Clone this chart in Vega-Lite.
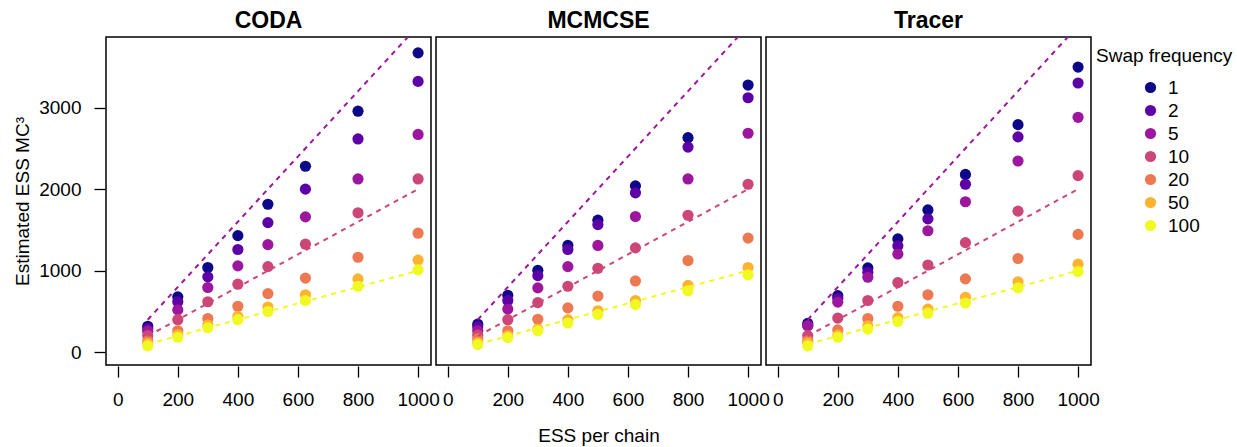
{
  "$schema": "https://vega.github.io/schema/vega-lite/v6.json",
  "padding": {"left": 13, "top": 10, "right": 0, "bottom": 0},
  "background": "white",
  "data": {
    "values": [
      {"method": "CODA", "swap": 1, "ess": 100, "mc3": 320},
      {"method": "CODA", "swap": 1, "ess": 200, "mc3": 680},
      {"method": "CODA", "swap": 1, "ess": 300, "mc3": 1040},
      {"method": "CODA", "swap": 1, "ess": 400, "mc3": 1430},
      {"method": "CODA", "swap": 1, "ess": 500, "mc3": 1815},
      {"method": "CODA", "swap": 1, "ess": 625, "mc3": 2280},
      {"method": "CODA", "swap": 1, "ess": 800, "mc3": 2955},
      {"method": "CODA", "swap": 1, "ess": 1000, "mc3": 3670},
      {"method": "CODA", "swap": 2, "ess": 100, "mc3": 290},
      {"method": "CODA", "swap": 2, "ess": 200, "mc3": 620},
      {"method": "CODA", "swap": 2, "ess": 300, "mc3": 925},
      {"method": "CODA", "swap": 2, "ess": 400, "mc3": 1260},
      {"method": "CODA", "swap": 2, "ess": 500, "mc3": 1590},
      {"method": "CODA", "swap": 2, "ess": 625, "mc3": 2000},
      {"method": "CODA", "swap": 2, "ess": 800, "mc3": 2615},
      {"method": "CODA", "swap": 2, "ess": 1000, "mc3": 3320},
      {"method": "CODA", "swap": 5, "ess": 100, "mc3": 260},
      {"method": "CODA", "swap": 5, "ess": 200, "mc3": 520},
      {"method": "CODA", "swap": 5, "ess": 300, "mc3": 795},
      {"method": "CODA", "swap": 5, "ess": 400, "mc3": 1060},
      {"method": "CODA", "swap": 5, "ess": 500, "mc3": 1320},
      {"method": "CODA", "swap": 5, "ess": 625, "mc3": 1660},
      {"method": "CODA", "swap": 5, "ess": 800, "mc3": 2125},
      {"method": "CODA", "swap": 5, "ess": 1000, "mc3": 2670},
      {"method": "CODA", "swap": 10, "ess": 100, "mc3": 205},
      {"method": "CODA", "swap": 10, "ess": 200, "mc3": 400},
      {"method": "CODA", "swap": 10, "ess": 300, "mc3": 620},
      {"method": "CODA", "swap": 10, "ess": 400, "mc3": 835},
      {"method": "CODA", "swap": 10, "ess": 500, "mc3": 1050},
      {"method": "CODA", "swap": 10, "ess": 625, "mc3": 1325},
      {"method": "CODA", "swap": 10, "ess": 800, "mc3": 1710},
      {"method": "CODA", "swap": 10, "ess": 1000, "mc3": 2125},
      {"method": "CODA", "swap": 20, "ess": 100, "mc3": 140},
      {"method": "CODA", "swap": 20, "ess": 200, "mc3": 265},
      {"method": "CODA", "swap": 20, "ess": 300, "mc3": 415},
      {"method": "CODA", "swap": 20, "ess": 400, "mc3": 565},
      {"method": "CODA", "swap": 20, "ess": 500, "mc3": 720},
      {"method": "CODA", "swap": 20, "ess": 625, "mc3": 910},
      {"method": "CODA", "swap": 20, "ess": 800, "mc3": 1165},
      {"method": "CODA", "swap": 20, "ess": 1000, "mc3": 1460},
      {"method": "CODA", "swap": 50, "ess": 100, "mc3": 110},
      {"method": "CODA", "swap": 50, "ess": 200, "mc3": 215},
      {"method": "CODA", "swap": 50, "ess": 300, "mc3": 335},
      {"method": "CODA", "swap": 50, "ess": 400, "mc3": 440},
      {"method": "CODA", "swap": 50, "ess": 500, "mc3": 555},
      {"method": "CODA", "swap": 50, "ess": 625, "mc3": 705},
      {"method": "CODA", "swap": 50, "ess": 800, "mc3": 900},
      {"method": "CODA", "swap": 50, "ess": 1000, "mc3": 1130},
      {"method": "CODA", "swap": 100, "ess": 100, "mc3": 80},
      {"method": "CODA", "swap": 100, "ess": 200, "mc3": 185},
      {"method": "CODA", "swap": 100, "ess": 300, "mc3": 300},
      {"method": "CODA", "swap": 100, "ess": 400, "mc3": 400},
      {"method": "CODA", "swap": 100, "ess": 500, "mc3": 500},
      {"method": "CODA", "swap": 100, "ess": 625, "mc3": 635},
      {"method": "CODA", "swap": 100, "ess": 800, "mc3": 810},
      {"method": "CODA", "swap": 100, "ess": 1000, "mc3": 1010},
      {"method": "MCMCSE", "swap": 1, "ess": 100, "mc3": 345},
      {"method": "MCMCSE", "swap": 1, "ess": 200, "mc3": 700},
      {"method": "MCMCSE", "swap": 1, "ess": 300, "mc3": 1005},
      {"method": "MCMCSE", "swap": 1, "ess": 400, "mc3": 1310},
      {"method": "MCMCSE", "swap": 1, "ess": 500, "mc3": 1620},
      {"method": "MCMCSE", "swap": 1, "ess": 625, "mc3": 2040},
      {"method": "MCMCSE", "swap": 1, "ess": 800, "mc3": 2630},
      {"method": "MCMCSE", "swap": 1, "ess": 1000, "mc3": 3275},
      {"method": "MCMCSE", "swap": 2, "ess": 100, "mc3": 315},
      {"method": "MCMCSE", "swap": 2, "ess": 200, "mc3": 635},
      {"method": "MCMCSE", "swap": 2, "ess": 300, "mc3": 940},
      {"method": "MCMCSE", "swap": 2, "ess": 400, "mc3": 1260},
      {"method": "MCMCSE", "swap": 2, "ess": 500, "mc3": 1565},
      {"method": "MCMCSE", "swap": 2, "ess": 625, "mc3": 1955},
      {"method": "MCMCSE", "swap": 2, "ess": 800, "mc3": 2515},
      {"method": "MCMCSE", "swap": 2, "ess": 1000, "mc3": 3120},
      {"method": "MCMCSE", "swap": 5, "ess": 100, "mc3": 265},
      {"method": "MCMCSE", "swap": 5, "ess": 200, "mc3": 530},
      {"method": "MCMCSE", "swap": 5, "ess": 300, "mc3": 790},
      {"method": "MCMCSE", "swap": 5, "ess": 400, "mc3": 1050},
      {"method": "MCMCSE", "swap": 5, "ess": 500, "mc3": 1310},
      {"method": "MCMCSE", "swap": 5, "ess": 625, "mc3": 1665},
      {"method": "MCMCSE", "swap": 5, "ess": 800, "mc3": 2125},
      {"method": "MCMCSE", "swap": 5, "ess": 1000, "mc3": 2685},
      {"method": "MCMCSE", "swap": 10, "ess": 100, "mc3": 210},
      {"method": "MCMCSE", "swap": 10, "ess": 200, "mc3": 400},
      {"method": "MCMCSE", "swap": 10, "ess": 300, "mc3": 610},
      {"method": "MCMCSE", "swap": 10, "ess": 400, "mc3": 810},
      {"method": "MCMCSE", "swap": 10, "ess": 500, "mc3": 1030},
      {"method": "MCMCSE", "swap": 10, "ess": 625, "mc3": 1280},
      {"method": "MCMCSE", "swap": 10, "ess": 800, "mc3": 1680},
      {"method": "MCMCSE", "swap": 10, "ess": 1000, "mc3": 2060},
      {"method": "MCMCSE", "swap": 20, "ess": 100, "mc3": 165},
      {"method": "MCMCSE", "swap": 20, "ess": 200, "mc3": 265},
      {"method": "MCMCSE", "swap": 20, "ess": 300, "mc3": 405},
      {"method": "MCMCSE", "swap": 20, "ess": 400, "mc3": 545},
      {"method": "MCMCSE", "swap": 20, "ess": 500, "mc3": 690},
      {"method": "MCMCSE", "swap": 20, "ess": 625, "mc3": 875},
      {"method": "MCMCSE", "swap": 20, "ess": 800, "mc3": 1125},
      {"method": "MCMCSE", "swap": 20, "ess": 1000, "mc3": 1400},
      {"method": "MCMCSE", "swap": 50, "ess": 100, "mc3": 120},
      {"method": "MCMCSE", "swap": 50, "ess": 200, "mc3": 205},
      {"method": "MCMCSE", "swap": 50, "ess": 300, "mc3": 285},
      {"method": "MCMCSE", "swap": 50, "ess": 400, "mc3": 400},
      {"method": "MCMCSE", "swap": 50, "ess": 500, "mc3": 510},
      {"method": "MCMCSE", "swap": 50, "ess": 625, "mc3": 635},
      {"method": "MCMCSE", "swap": 50, "ess": 800, "mc3": 820},
      {"method": "MCMCSE", "swap": 50, "ess": 1000, "mc3": 1040},
      {"method": "MCMCSE", "swap": 100, "ess": 100, "mc3": 95},
      {"method": "MCMCSE", "swap": 100, "ess": 200, "mc3": 180},
      {"method": "MCMCSE", "swap": 100, "ess": 300, "mc3": 265},
      {"method": "MCMCSE", "swap": 100, "ess": 400, "mc3": 360},
      {"method": "MCMCSE", "swap": 100, "ess": 500, "mc3": 465},
      {"method": "MCMCSE", "swap": 100, "ess": 625, "mc3": 585},
      {"method": "MCMCSE", "swap": 100, "ess": 800, "mc3": 755},
      {"method": "MCMCSE", "swap": 100, "ess": 1000, "mc3": 950},
      {"method": "Tracer", "swap": 1, "ess": 100, "mc3": 355},
      {"method": "Tracer", "swap": 1, "ess": 200, "mc3": 695},
      {"method": "Tracer", "swap": 1, "ess": 300, "mc3": 1035},
      {"method": "Tracer", "swap": 1, "ess": 400, "mc3": 1390},
      {"method": "Tracer", "swap": 1, "ess": 500, "mc3": 1745},
      {"method": "Tracer", "swap": 1, "ess": 625, "mc3": 2180},
      {"method": "Tracer", "swap": 1, "ess": 800, "mc3": 2790},
      {"method": "Tracer", "swap": 1, "ess": 1000, "mc3": 3495},
      {"method": "Tracer", "swap": 2, "ess": 100, "mc3": 330},
      {"method": "Tracer", "swap": 2, "ess": 200, "mc3": 660},
      {"method": "Tracer", "swap": 2, "ess": 300, "mc3": 980},
      {"method": "Tracer", "swap": 2, "ess": 400, "mc3": 1305},
      {"method": "Tracer", "swap": 2, "ess": 500, "mc3": 1635},
      {"method": "Tracer", "swap": 2, "ess": 625, "mc3": 2060},
      {"method": "Tracer", "swap": 2, "ess": 800, "mc3": 2640},
      {"method": "Tracer", "swap": 2, "ess": 1000, "mc3": 3300},
      {"method": "Tracer", "swap": 5, "ess": 100, "mc3": 325},
      {"method": "Tracer", "swap": 5, "ess": 200, "mc3": 615},
      {"method": "Tracer", "swap": 5, "ess": 300, "mc3": 920},
      {"method": "Tracer", "swap": 5, "ess": 400, "mc3": 1205},
      {"method": "Tracer", "swap": 5, "ess": 500, "mc3": 1490},
      {"method": "Tracer", "swap": 5, "ess": 625, "mc3": 1845},
      {"method": "Tracer", "swap": 5, "ess": 800, "mc3": 2345},
      {"method": "Tracer", "swap": 5, "ess": 1000, "mc3": 2880},
      {"method": "Tracer", "swap": 10, "ess": 100, "mc3": 205},
      {"method": "Tracer", "swap": 10, "ess": 200, "mc3": 420},
      {"method": "Tracer", "swap": 10, "ess": 300, "mc3": 635},
      {"method": "Tracer", "swap": 10, "ess": 400, "mc3": 855},
      {"method": "Tracer", "swap": 10, "ess": 500, "mc3": 1070},
      {"method": "Tracer", "swap": 10, "ess": 625, "mc3": 1345},
      {"method": "Tracer", "swap": 10, "ess": 800, "mc3": 1730},
      {"method": "Tracer", "swap": 10, "ess": 1000, "mc3": 2165},
      {"method": "Tracer", "swap": 20, "ess": 100, "mc3": 145},
      {"method": "Tracer", "swap": 20, "ess": 200, "mc3": 275},
      {"method": "Tracer", "swap": 20, "ess": 300, "mc3": 415},
      {"method": "Tracer", "swap": 20, "ess": 400, "mc3": 565},
      {"method": "Tracer", "swap": 20, "ess": 500, "mc3": 705},
      {"method": "Tracer", "swap": 20, "ess": 625, "mc3": 900},
      {"method": "Tracer", "swap": 20, "ess": 800, "mc3": 1150},
      {"method": "Tracer", "swap": 20, "ess": 1000, "mc3": 1445},
      {"method": "Tracer", "swap": 50, "ess": 100, "mc3": 115},
      {"method": "Tracer", "swap": 50, "ess": 200, "mc3": 210},
      {"method": "Tracer", "swap": 50, "ess": 300, "mc3": 325},
      {"method": "Tracer", "swap": 50, "ess": 400, "mc3": 425},
      {"method": "Tracer", "swap": 50, "ess": 500, "mc3": 530},
      {"method": "Tracer", "swap": 50, "ess": 625, "mc3": 675},
      {"method": "Tracer", "swap": 50, "ess": 800, "mc3": 865},
      {"method": "Tracer", "swap": 50, "ess": 1000, "mc3": 1080},
      {"method": "Tracer", "swap": 100, "ess": 100, "mc3": 80},
      {"method": "Tracer", "swap": 100, "ess": 200, "mc3": 185},
      {"method": "Tracer", "swap": 100, "ess": 300, "mc3": 285},
      {"method": "Tracer", "swap": 100, "ess": 400, "mc3": 380},
      {"method": "Tracer", "swap": 100, "ess": 500, "mc3": 480},
      {"method": "Tracer", "swap": 100, "ess": 625, "mc3": 605},
      {"method": "Tracer", "swap": 100, "ess": 800, "mc3": 790},
      {"method": "Tracer", "swap": 100, "ess": 1000, "mc3": 990},
      {"method": "CODA", "ref": "4x", "ess": 100, "mc3": 400, "ess_end": 1000, "mc3_end": 4000},
      {"method": "CODA", "ref": "2x", "ess": 100, "mc3": 200, "ess_end": 1000, "mc3_end": 2000},
      {"method": "CODA", "ref": "1x", "ess": 100, "mc3": 100, "ess_end": 1000, "mc3_end": 1000},
      {"method": "MCMCSE", "ref": "4x", "ess": 100, "mc3": 400, "ess_end": 1000, "mc3_end": 4000},
      {"method": "MCMCSE", "ref": "2x", "ess": 100, "mc3": 200, "ess_end": 1000, "mc3_end": 2000},
      {"method": "MCMCSE", "ref": "1x", "ess": 100, "mc3": 100, "ess_end": 1000, "mc3_end": 1000},
      {"method": "Tracer", "ref": "4x", "ess": 100, "mc3": 400, "ess_end": 1000, "mc3_end": 4000},
      {"method": "Tracer", "ref": "2x", "ess": 100, "mc3": 200, "ess_end": 1000, "mc3_end": 2000},
      {"method": "Tracer", "ref": "1x", "ess": 100, "mc3": 100, "ess_end": 1000, "mc3_end": 1000}
    ]
  },
  "facet": {
    "column": {
      "field": "method",
      "type": "nominal",
      "sort": ["CODA", "MCMCSE", "Tracer"],
      "title": "ESS per chain",
      "header": {
        "titleOrient": "bottom",
        "labelOrient": "top",
        "titleFont": "Liberation Sans",
        "titleFontSize": 19,
        "titleFontWeight": "normal",
        "titleColor": "black",
        "titlePadding": 8,
        "labelFont": "Liberation Sans",
        "labelFontSize": 23,
        "labelFontWeight": "bold",
        "labelColor": "black",
        "labelPadding": 3
      }
    }
  },
  "spacing": 3,
  "spec": {
    "width": 325,
    "height": 328,
    "layer": [
      {
        "transform": [{"filter": "isValid(datum.swap)"}],
        "mark": {"type": "point", "shape": "circle", "filled": true, "opacity": 1, "size": 125, "strokeWidth": 0},
        "encoding": {
          "x": {
            "field": "ess",
            "type": "quantitative",
            "scale": {"domain": [-39, 1043], "nice": false, "zero": false},
            "axis": {"values": [0, 200, 400, 600, 800, 1000], "format": "d", "title": null}
          },
          "y": {
            "field": "mc3",
            "type": "quantitative",
            "scale": {"domain": [-155, 3864], "nice": false, "zero": false},
            "axis": {"values": [0, 1000, 2000, 3000], "format": "d", "title": "Estimated ESS MC³"}
          },
          "color": {
            "field": "swap",
            "type": "ordinal",
            "title": "Swap frequency",
            "scale": {
              "domain": [1, 2, 5, 10, 20, 50, 100],
              "range": ["#0D0887", "#5D01A6", "#9C179E", "#CC4678", "#ED7953", "#FDB32F", "#F0F921"]
            }
          }
        }
      },
      {
        "transform": [{"filter": "datum.ref === '4x'"}],
        "mark": {"type": "rule", "clip": true, "color": "#9C179E", "strokeWidth": 2, "strokeDash": [5, 5]},
        "encoding": {
          "x": {"field": "ess", "type": "quantitative"},
          "y": {"field": "mc3", "type": "quantitative"},
          "x2": {"field": "ess_end"},
          "y2": {"field": "mc3_end"}
        }
      },
      {
        "transform": [{"filter": "datum.ref === '2x'"}],
        "mark": {"type": "rule", "clip": true, "color": "#CC4678", "strokeWidth": 2, "strokeDash": [5, 5]},
        "encoding": {
          "x": {"field": "ess", "type": "quantitative"},
          "y": {"field": "mc3", "type": "quantitative"},
          "x2": {"field": "ess_end"},
          "y2": {"field": "mc3_end"}
        }
      },
      {
        "transform": [{"filter": "datum.ref === '1x'"}],
        "mark": {"type": "rule", "clip": true, "color": "#F0F921", "strokeWidth": 2, "strokeDash": [5, 5]},
        "encoding": {
          "x": {"field": "ess", "type": "quantitative"},
          "y": {"field": "mc3", "type": "quantitative"},
          "x2": {"field": "ess_end"},
          "y2": {"field": "mc3_end"}
        }
      }
    ]
  },
  "config": {
    "font": "Liberation Sans",
    "view": {"stroke": "black", "strokeWidth": 1.5},
    "axis": {
      "grid": false,
      "domain": false,
      "ticks": true,
      "tickColor": "black",
      "tickWidth": 1.3,
      "tickSize": 11,
      "labelFont": "Liberation Sans",
      "labelFontSize": 19,
      "labelColor": "black",
      "titleFont": "Liberation Sans",
      "titleFontSize": 19,
      "titleFontWeight": "normal",
      "titleColor": "black"
    },
    "axisX": {"labelPadding": 13},
    "axisY": {"labelPadding": 13, "titlePadding": 6},
    "legend": {
      "orient": "right",
      "offset": -14,
      "padding": 10,
      "titleFont": "Liberation Sans",
      "titleFontSize": 19,
      "titleFontWeight": "normal",
      "titleColor": "black",
      "titlePadding": 12,
      "labelFont": "Liberation Sans",
      "labelFontSize": 19,
      "labelColor": "black",
      "labelOffset": 8,
      "symbolType": "circle",
      "symbolSize": 125,
      "symbolStrokeWidth": 0,
      "symbolOpacity": 1,
      "symbolOffset": 45,
      "rowPadding": 3
    }
  }
}
